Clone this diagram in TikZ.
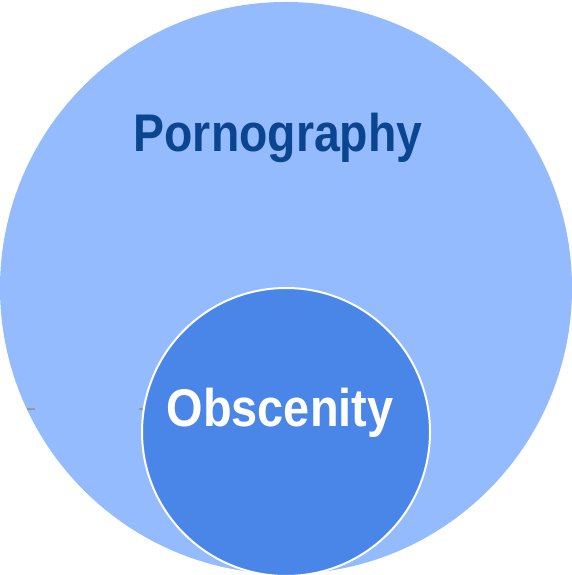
\documentclass[tikz,border=0pt]{standalone}
\usepackage{fontspec}
\setmainfont{Liberation Sans}
\definecolor{outerblue}{HTML}{93BBFD}
\definecolor{innerblue}{HTML}{4A86E8}
\definecolor{darkblue}{HTML}{0B4590}
\tikzset{
  labeltext/.style={font=\bfseries\fontsize{53}{63}\selectfont, inner sep=0pt},
  tick/.style={draw=gray!80, line width=1.5pt}
}
\begin{document}
\begin{tikzpicture}[x=1pt,y=1pt]
\useasboundingbox (0,0) rectangle (572,575);
\fill[outerblue] (286,287) circle (286);
\draw[tick] (27,166) -- (35,166);
\draw[tick] (139,166) -- (145,166);
\node[circle, fill=innerblue, draw=white, line width=2pt, minimum size=288pt, inner sep=0pt] (obsc) at (286,143) {};
\node[labeltext, text=darkblue] (porn) at (278,437) {\scalebox{0.875}[1]{Pornography}};
\node[labeltext, text=white] (obtext) at (280,162) {\scalebox{0.885}[1]{Obscenity}};
\end{tikzpicture}
\end{document}
